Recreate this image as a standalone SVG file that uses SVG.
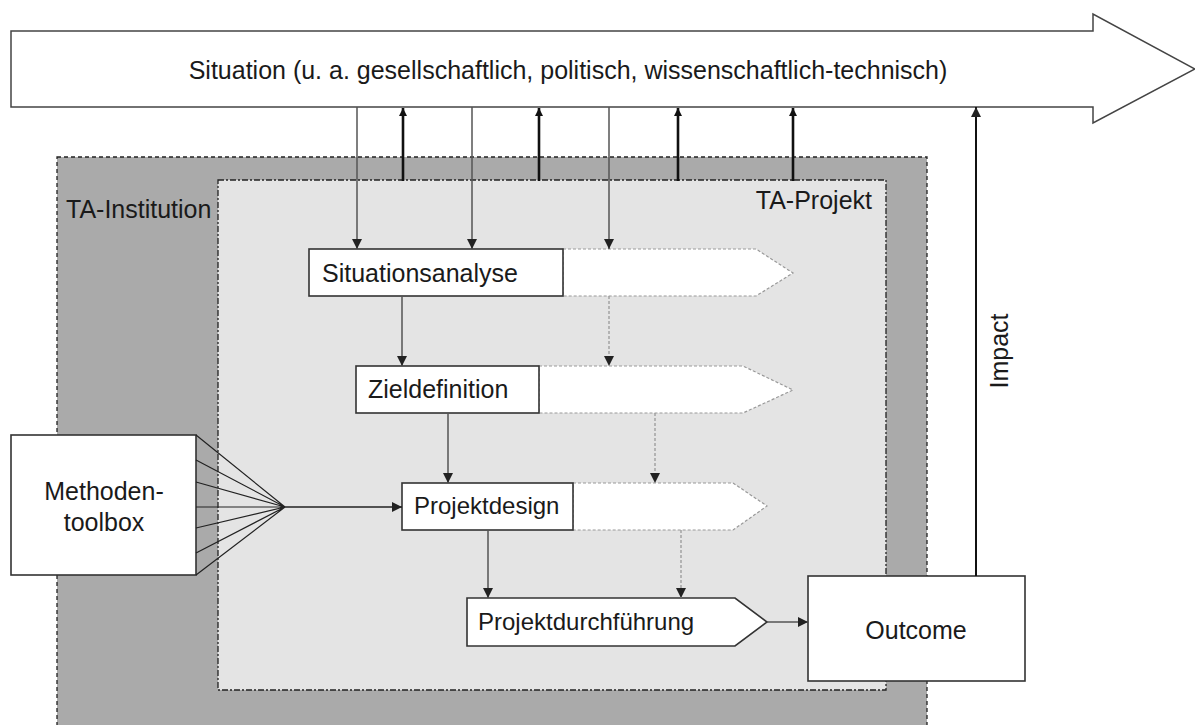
<svg xmlns="http://www.w3.org/2000/svg" width="1195" height="725" viewBox="0 0 1195 725">
  <style>
    text { font-family: "Liberation Sans", Arial, sans-serif; fill: #1a1a1a; }
    .lbl { font-size: 25px; }
    .sm { font-size: 24px; }
    .box { fill: #fff; stroke: #333; stroke-width: 1.6; }
    .ext { fill: #fff; stroke: #999; stroke-width: 1.2; stroke-dasharray: 3 2; }
    .down { stroke: #555; stroke-width: 1.5; fill: none; marker-end: url(#head); }
    .up { stroke: #111; stroke-width: 2.6; fill: none; marker-end: url(#headUp); }
    .dash { stroke: #999; stroke-width: 1.3; stroke-dasharray: 3 2; fill: none; marker-end: url(#head); }
    .fan { stroke: #222; stroke-width: 1.2; fill: none; }
  </style>
  <defs>
    <marker id="head" viewBox="0 0 10 10" refX="10" refY="5" markerWidth="10" markerHeight="10" markerUnits="userSpaceOnUse" orient="auto">
      <path d="M0,0 L10,5 L0,10 z" fill="#222"/>
    </marker>
    <marker id="headUp" viewBox="0 0 10 10" refX="10" refY="5" markerWidth="8" markerHeight="8" markerUnits="userSpaceOnUse" orient="auto">
      <path d="M0,0 L10,5 L0,10 z" fill="#111"/>
    </marker>
  </defs>

  <!-- situation arrow -->
  <g id="situation">
    <path d="M11,31 H1093 V14 L1195,69 L1093,123 V107 H11 Z" fill="#fff" stroke="#444" stroke-width="1.5"/>
    <text class="lbl" x="568" y="79" text-anchor="middle">Situation (u. a. gesellschaftlich, politisch, wissenschaftlich-technisch)</text>
  </g>

  <!-- institution frame -->
  <g id="ta-institution">
    <rect x="57" y="157" width="870" height="580" fill="#aaaaaa" stroke="#222" stroke-width="1.3" stroke-dasharray="4 3"/>
    <text class="lbl" x="66" y="218">TA-Institution</text>
  </g>

  <!-- project frame -->
  <g id="ta-projekt">
    <rect x="218" y="180" width="668" height="510" fill="#e4e4e4" stroke="#222" stroke-width="1.3" stroke-dasharray="6 2 2 2"/>
    <text class="lbl" x="872" y="209" text-anchor="end">TA-Projekt</text>
  </g>

  <g id="situationsanalyse">
    <path class="ext" d="M563,249 H756 L793,273 L756,296 H563 Z"/>
    <rect class="box" x="309" y="249" width="254" height="47"/>
    <text class="lbl" x="322" y="282">Situationsanalyse</text>
  </g>

  <g id="zieldefinition">
    <path class="ext" d="M539,366 H743 L793,390 L743,413 H539 Z"/>
    <rect class="box" x="356" y="366" width="183" height="47"/>
    <text class="lbl" x="368" y="398">Zieldefinition</text>
  </g>

  <g id="projektdesign">
    <path class="ext" d="M573,483 H733 L767,506 L733,530 H573 Z"/>
    <rect class="box" x="402" y="483" width="171" height="47"/>
    <text class="sm" x="414" y="514">Projektdesign</text>
  </g>

  <g id="projektdurchfuehrung">
    <path class="box" d="M467,598 H735 L767,622 L735,646 H467 Z"/>
    <text class="sm" x="478" y="630">Projektdurchführung</text>
  </g>

  <g id="methodentoolbox">
    <rect class="box" x="11" y="435" width="185" height="140"/>
    <text class="lbl" x="104" y="500" text-anchor="middle">Methoden-</text>
    <text class="lbl" x="104" y="531" text-anchor="middle">toolbox</text>
  </g>

  <g id="outcome">
    <rect class="box" x="808" y="576" width="217" height="105"/>
    <text class="lbl" x="916" y="639" text-anchor="middle">Outcome</text>
  </g>

  <g id="impact-label">
    <text class="lbl" x="0" y="0" text-anchor="middle" transform="translate(1008,351) rotate(-90)">Impact</text>
  </g>

  <!-- connectors -->
  <g id="connectors">
    <!-- situation into the analysis -->
    <line class="down" x1="357" y1="107" x2="357" y2="249"/>
    <line class="down" x1="472" y1="107" x2="472" y2="249"/>
    <line class="down" x1="609" y1="107" x2="609" y2="249"/>
    <!-- project back to situation -->
    <line class="up" x1="403" y1="181" x2="403" y2="108"/>
    <line class="up" x1="539" y1="181" x2="539" y2="108"/>
    <line class="up" x1="678" y1="181" x2="678" y2="108"/>
    <line class="up" x1="793" y1="181" x2="793" y2="108"/>
    <!-- stage to stage -->
    <line class="down" x1="402" y1="296" x2="402" y2="366"/>
    <line class="dash" x1="609" y1="296" x2="609" y2="366"/>
    <line class="down" x1="448" y1="413" x2="448" y2="483"/>
    <line class="dash" x1="655" y1="413" x2="655" y2="483"/>
    <line class="down" x1="488" y1="530" x2="488" y2="598"/>
    <line class="dash" x1="681" y1="530" x2="681" y2="598"/>
    <!-- method fan -->
    <path class="fan" d="M196,435 L285,507 M196,460 L285,507 M196,482 L285,507 M196,507 L285,507 M196,528 L285,507 M196,553 L285,507 M196,575 L285,507"/>
    <line class="down" x1="285" y1="507" x2="402" y2="507" style="stroke:#222"/>
    <!-- execution to outcome, outcome to situation -->
    <line class="down" x1="767" y1="622" x2="808" y2="622"/>
    <line class="down" x1="976" y1="576" x2="976" y2="107" style="stroke:#111;stroke-width:2"/>
  </g>
</svg>
